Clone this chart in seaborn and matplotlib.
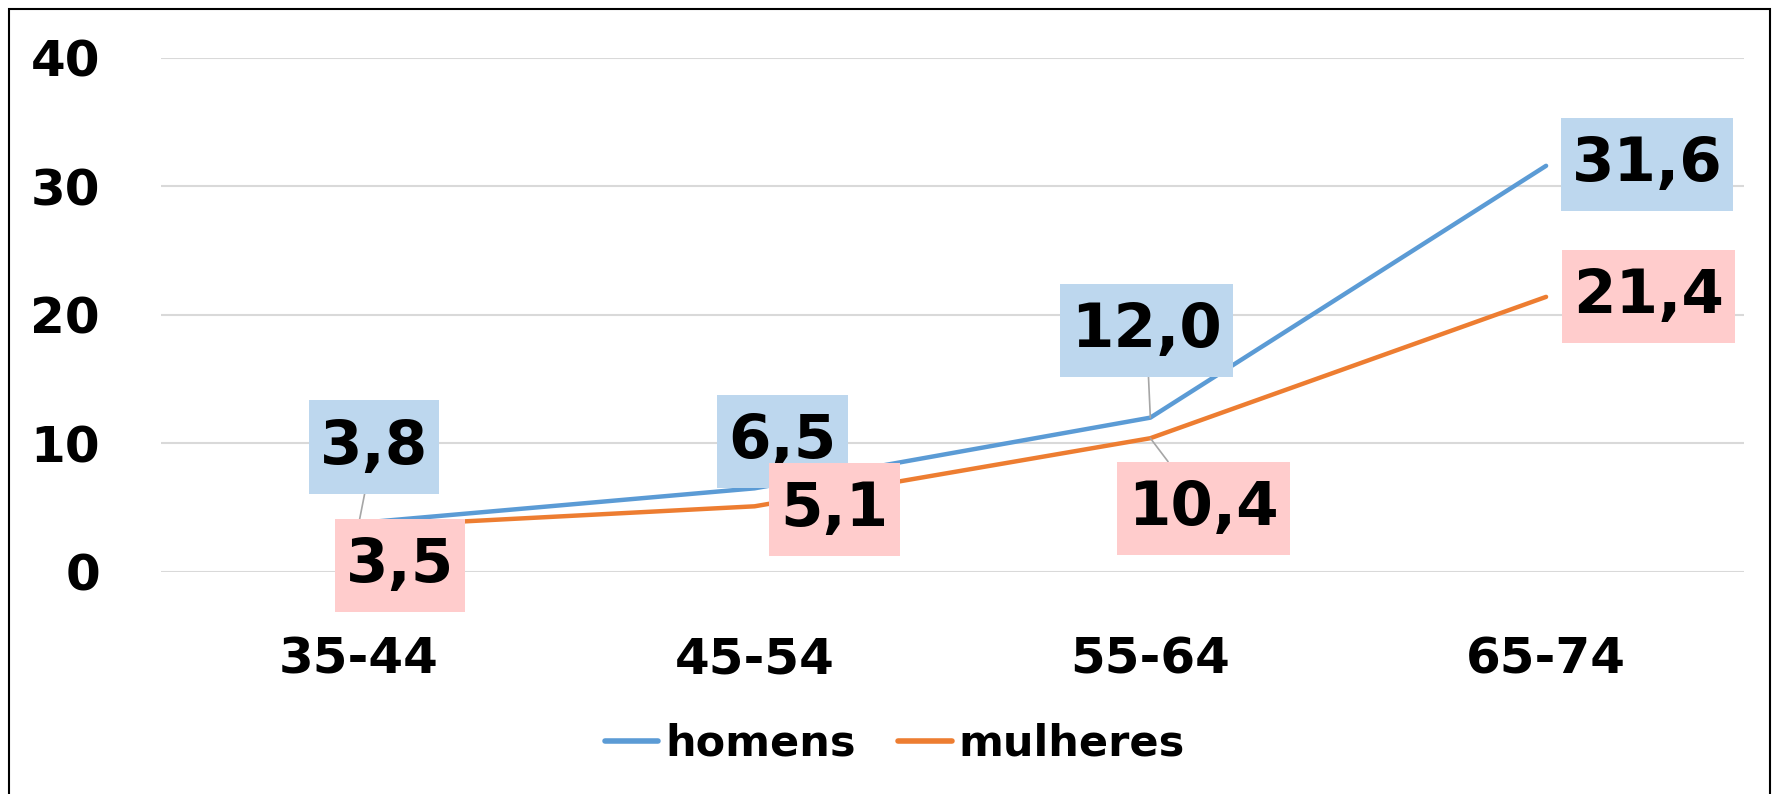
import pandas as pd
import seaborn as sns
import matplotlib.pyplot as plt
from matplotlib.patches import Rectangle
from matplotlib.lines import Line2D
from matplotlib.path import Path

#data
faixas = ['35-44', '45-54', '55-64', '65-74']
homens = [3.8, 6.5, 12.0, 31.6]
mulheres = [3.5, 5.1, 10.4, 21.4]

#label offsets in pixels (dx, dy) from each point, and whether a leader line shows
off_homens = [(15, 76), (28, 47), (-4, 87), (101, 1)]
off_mulheres = [(41, -39), (80, -3), (53, -70), (102, 0)]
guia_homens = [True, False, True, False]
guia_mulheres = [False, False, True, False]

df = pd.DataFrame({
    'faixa': faixas * 2,
    'valor': homens + mulheres,
    'sexo': ['homens'] * 4 + ['mulheres'] * 4,
})

sns.set_style('white')
plt.rcParams['font.family'] = ['DejaVu Sans']
plt.rcParams['font.weight'] = 'bold'
plt.rcParams['text.color'] = 'black'
plt.rcParams['xtick.color'] = 'black'
plt.rcParams['ytick.color'] = 'black'

fig = plt.figure(figsize=(17.79, 7.94), dpi=100)
ax = fig.add_axes([0.0905, 0.2798, 0.8898, 0.6473])

cores = {'homens': '#5B9BD5', 'mulheres': '#ED7D31'}
sns.lineplot(data=df, x='faixa', y='valor', hue='sexo', palette=cores,
             linewidth=3.2, ax=ax, legend=False)

ax.set_xlim(-0.5, 3.5)
ax.set_ylim(0, 40)
ax.set_yticks([0, 10, 20, 30, 40])
ax.yaxis.grid(True, color='#D9D9D9', linewidth=1.5)
ax.set_axisbelow(True)
for s in ax.spines.values():
    s.set_visible(False)
ax.tick_params(axis='both', length=0, labelsize=36)
ax.tick_params(axis='y', pad=44)
ax.tick_params(axis='x', pad=46)
ax.set_xlabel('')
ax.set_ylabel('')

#box taller than wide padding, like the excel labels
def caixa(x0, y0, width, height, mutation_size):
    px = 0.18 * mutation_size
    py = 0.28 * mutation_size
    x0, y0 = x0 - px, y0 - py
    x1, y1 = x0 + width + 2 * px, y0 + height + 2 * py
    return Path([(x0, y0), (x1, y0), (x1, y1), (x0, y1), (x0, y0)], closed=True)

#data labels with coloured boxes and leader lines
def rotulos(valores, offsets, guias, cor_caixa):
    for i, (v, off, g) in enumerate(zip(valores, offsets, guias)):
        seta = None
        if g:
            seta = dict(arrowstyle='-', color='#A6A6A6', lw=1.2, shrinkA=0, shrinkB=0)
        ax.annotate(f'{v:.1f}'.replace('.', ','), xy=(i, v), xytext=off,
                    textcoords='offset pixels', ha='center', va='center',
                    fontsize=44, fontweight='bold', color='black',
                    bbox=dict(boxstyle=caixa, fc=cor_caixa, ec='none'),
                    arrowprops=seta, zorder=5)

rotulos(homens, off_homens, guia_homens, '#BDD7EE')
rotulos(mulheres, off_mulheres, guia_mulheres, '#FFCCCC')

#legend
handles = [Line2D([0], [0], color=cores[k], lw=4, solid_capstyle='round') for k in cores]
fig.legend(handles, list(cores.keys()), loc='center', bbox_to_anchor=(0.503, 0.063),
           ncol=2, frameon=False, fontsize=31, handlelength=1.25,
           handletextpad=0.15, columnspacing=1.0, labelcolor='black')

#outer border
fig.patches.append(Rectangle((9 / 1779, -0.02), (1770 - 9) / 1779, 1.02 - 9 / 794,
                             transform=fig.transFigure, fill=False,
                             ec='black', lw=1.5))

fig.savefig('out.png', dpi=100)
